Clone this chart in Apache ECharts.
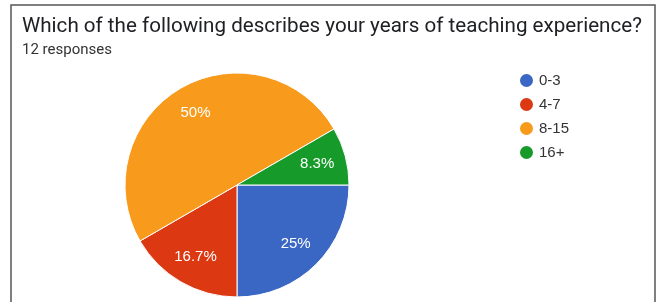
<!DOCTYPE html>
<html>
<head>
<meta charset="utf-8">
<script src="https://cdn.jsdelivr.net/npm/echarts@6/dist/echarts.min.js"></script>
<style>
html,body{margin:0;padding:0;background:#fff;}
#chart{width:659px;height:302px;}
</style>
</head>
<body>
<div id="chart"></div>
<script>
var titleText = 'Which of the following describes your years of teaching experience?';
var subtitleText = '12 responses';
var categories = ['0-3', '4-7', '8-15', '16+'];
var counts = [3, 2, 6, 1];
var colors = ['#3a66c4', '#dc3912', '#f89a1c', '#169a2a'];

var data = categories.map(function (c, i) {
  return { name: c, value: counts[i], itemStyle: { color: colors[i] } };
});

var chart = echarts.init(document.getElementById('chart'), null, { renderer: 'canvas' });
chart.setOption({
  backgroundColor: '#fff',
  animation: false,
  title: {
    text: titleText,
    subtext: subtitleText,
    left: 17,
    top: 11,
    itemGap: 6,
    textStyle: { fontFamily: 'Roboto', fontSize: 20.6, fontWeight: 'normal', color: '#202124' },
    subtextStyle: { fontFamily: 'Roboto', fontSize: 15, color: '#333' }
  },
  legend: {
    orient: 'vertical',
    left: 513,
    top: 67,
    icon: 'circle',
    itemWidth: 15,
    itemHeight: 15,
    itemGap: 7,
    textStyle: { fontFamily: 'Arial', fontSize: 15, color: '#333' },
    data: categories
  },
  graphic: [{
    type: 'rect',
    shape: { x: 11, y: 5, width: 644, height: 310 },
    style: { fill: 'none', stroke: '#555', lineWidth: 1.5 },
    silent: true
  }],
  series: [{
    type: 'pie',
    center: [237, 185],
    radius: [0, 112],
    startAngle: 0,
    clockwise: true,
    percentPrecision: 1,
    label: { show: false },
    labelLine: { show: false },
    itemStyle: { borderColor: '#fff', borderWidth: 1 },
    data: data
  }, {
    type: 'pie',
    center: [237, 185],
    radius: [48, 112],
    startAngle: 0,
    clockwise: true,
    silent: true,
    percentPrecision: 1,
    legendHoverLink: false,
    itemStyle: { color: 'rgba(0,0,0,0)', borderWidth: 0 },
    label: {
      show: true,
      position: 'inside',
      formatter: function (p) { return p.percent + '%'; },
      fontFamily: 'Arial',
      fontSize: 15,
      color: '#fff'
    },
    labelLine: { show: false },
    data: categories.map(function (c, i) { return { name: c, value: counts[i], itemStyle: { color: 'rgba(0,0,0,0)' } }; })
  }]
});
</script>
</body>
</html>
